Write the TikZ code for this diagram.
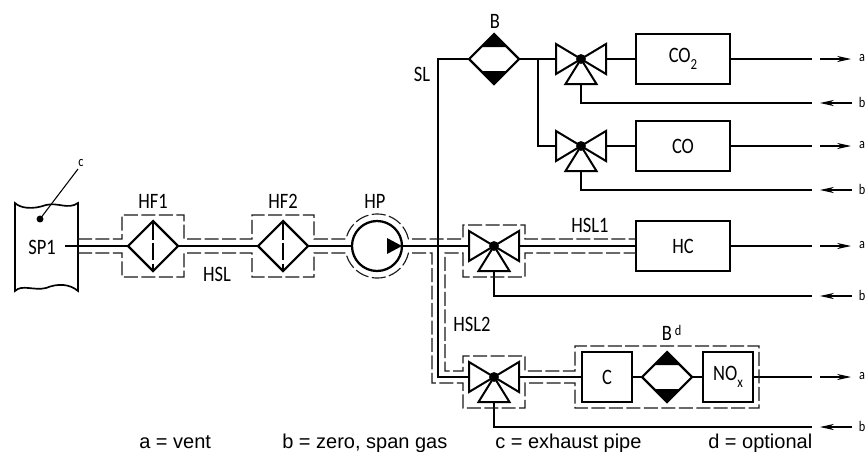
\documentclass[tikz,border=0pt]{standalone}
\usepackage{fontspec}
\setmainfont{Carlito}[FakeStretch=0.84]
\newfontfamily\legendfont{Liberation Sans}
\usetikzlibrary{shapes.geometric,arrows.meta,calc}
\tikzset{
 main/.style={line width=2.2pt},
 thin/.style={line width=1.5pt},
 dashline/.style={line width=0.85pt,dash pattern=on 10.5pt off 2.6pt,color=black!90},
 box/.style={draw,line width=1.7pt,inner sep=0pt,outer sep=0pt},
 filt/.style={draw,diamond,aspect=1,line width=1.6pt,inner sep=0pt,outer sep=0pt,minimum width=37.5pt,minimum height=37.5pt},
 lab/.style={inner sep=0pt,font=\fontsize{16.5}{17}\selectfont},
 small/.style={inner sep=0pt,font=\fontsize{11}{12}\selectfont},
 legend/.style={inner sep=0pt,anchor=base west,font=\legendfont\fontsize{15}{16}\selectfont},
 outarrow/.style={line width=0.8pt,-{Stealth[length=10.5pt,width=4.6pt]}},
}
\newcommand{\lowtxt}[1]{\raisebox{-0.3em}{\fontsize{11.5}{11.5}\selectfont #1}}
\newcommand{\valve}[3]{%
 \coordinate (#1) at (#2,#3);
 \coordinate (#1-l) at (#2-25,#3);
 \coordinate (#1-r) at (#2+25,#3);
 \coordinate (#1-b) at (#2,#3+25);
 \draw[line width=1.5pt,line join=miter] (#1) -- (#2-25,#3-15) -- (#2-25,#3+15) -- cycle;
 \draw[line width=1.5pt,line join=miter] (#1) -- (#2+25,#3-15) -- (#2+25,#3+15) -- cycle;
 \draw[line width=1.5pt,line join=miter] (#1) -- (#2+15.5,#3+25) -- (#2-15.5,#3+25) -- cycle;
 \fill (#1) circle[radius=3.7pt];
}
\newcommand{\capped}[1]{%
 \fill (#1.north) -- ([shift={(-13,-12)}]#1.center) -- ([shift={(13,-12)}]#1.center) -- cycle;
 \fill (#1.south) -- ([shift={(-13,12)}]#1.center) -- ([shift={(13,12)}]#1.center) -- cycle;
}
\newcommand{\hfilter}[1]{%
 \draw[line width=1.8pt,dash pattern=on 14pt off 2.5pt on 13pt off 2.5pt on 8pt] (#1.north) -- (#1.south);
}
\begin{document}
\begin{tikzpicture}[x=0.75pt,y=-0.75pt]
\useasboundingbox (0,0) rectangle (867,451);
% exhaust pipe
\draw[line width=1.25pt] (15,203) .. controls (20,208) and (32,210) .. (46,205) .. controls (58,202) and (68,210) .. (78,203)
  -- (78,291) .. controls (70,284) and (58,283) .. (46,288) .. controls (34,291) and (22,284) .. (15,291) -- cycle;
\node[lab] (sp1) at (42,247) {SP1};
\coordinate (spin) at (65,246);
\coordinate (spdot) at (40,219);
\coordinate (spc) at (78,169);
\fill (spdot) circle[radius=2.6pt];
\draw[line width=0.8pt] (spdot) -- (spc);
\node[small] (labc) at (81,163) {c};
% filters and pump
\node[filt] (hf1) at (153,246) {};
\node[filt] (hf2) at (283,246) {};
\hfilter{hf1}\hfilter{hf2}
\node[draw,circle,line width=1.7pt,inner sep=0pt,outer sep=0pt,minimum size=37.5pt] (hp) at (377,246) {};
\coordinate (hptip) at (402,246);
\fill (387,238) -- (hptip) -- (387,254) -- cycle;
\node[lab] (lhf1) at (153,201) {HF1};
\node[lab] (lhf2) at (283,201) {HF2};
\node[lab] (lhsl) at (217,274) {HSL};
\node[lab] (lhp) at (375,201) {HP};
% valves
\valve{v1}{581}{59}
\valve{v2}{581}{146}
\valve{v3}{494}{246}
\valve{v4}{494}{377}
% analysers
\node[box,minimum width=70.5pt,minimum height=37.5pt,lab] (co2) at (683,59) {CO\lowtxt{2}};
\node[box,minimum width=70.5pt,minimum height=37.5pt,lab] (co) at (683,146) {CO};
\node[box,minimum width=70.5pt,minimum height=37.5pt,lab] (hc) at (683,246) {HC};
\node[box,minimum width=38pt,minimum height=37.5pt,lab] (c) at (607,377) {C};
\node[box,minimum width=38pt,minimum height=37.5pt,lab] (nox) at (728,377) {NO\lowtxt{x}};
% dryers
\node[filt] (b1) at (494,59) {};
\node[filt] (b2) at (667,377) {};
\capped{b1}\capped{b2}
\node[lab] (lb) at (495,21) {B};
\node[lab] (lbd) at (667,333) {B};
\node[small] (ld) at (678,330) {d};
\node[lab] (lsl) at (422,74) {SL};
\node[lab] (lhsl1) at (590,225) {HSL1};
\node[lab] (lhsl2) at (472,324) {HSL2};
% junction points
\coordinate (j1) at (438,246);
\coordinate (j2) at (438,377);
\coordinate (j3) at (438,59);
\coordinate (j4) at (538,59);
\coordinate (j5) at (538,146);
% heated lines
\draw[main] (spin) -- (hf1.west);
\draw[main] (hf1.east) -- (hf2.west);
\draw[main] (hf2.east) -- (hp.west);
\draw[main] (hp.east) -- (v3-l);
\draw[main] (j1) -- (j2) -- (v4-l);
\draw[main] (v3-r) -- (hc.west);
\draw[main] (v4-r) -- (c.west);
% sample lines
\draw[thin] (j1) -- (j3) -- (b1.west);
\draw[thin] (b1.east) -- (v1-l);
\draw[thin] (j4) -- (j5) -- (v2-l);
\draw[thin] (v1-r) -- (co2.west);
\draw[thin] (v2-r) -- (co.west);
\draw[thin] (c.east) -- (b2.west);
\draw[thin] (b2.east) -- (nox.west);
% outlets
\foreach \n/\y/\src in {a1/59/co2,a2/146/co,a3/246/hc,a4/377/nox}{
 \coordinate (\n-e) at (812,\y);
 \coordinate (\n-s) at (820,\y);
 \coordinate (\n-t) at (851,\y);
 \draw[main] (\src.east) -- (\n-e);
 \draw[outarrow] (\n-s) -- (\n-t);
 \node[small] (\n-l) at (862,\y-1) {a};
}
\foreach \n/\y/\src in {b1x/103/v1,b2x/190/v2,b3x/296/v3,b4x/427/v4}{
 \coordinate (\n-e) at (812,\y);
 \coordinate (\n-s) at (852,\y);
 \coordinate (\n-t) at (820,\y);
 \draw[main] (\src-b) |- (\n-e);
 \draw[outarrow] (\n-s) -- (\n-t);
 \node[small] (\n-l) at (862,\y-1) {b};
}
% heated enclosure dashes
\draw[dashline] (78,239) -- (122,239) -- (122,215) -- (184,215) -- (184,239) -- (252,239) -- (252,215) -- (314,215) -- (314,239) -- (346,239)
  arc[start angle=167.4,end angle=12.6,radius=24pt] -- (463,239) -- (463,225) -- (525,225) -- (525,239) -- (636,239);
\draw[dashline] (78,253) -- (122,253) -- (122,277) -- (184,277) -- (184,253) -- (252,253) -- (252,277) -- (314,277) -- (314,253) -- (346,253)
  arc[start angle=192.6,end angle=347.4,radius=24pt] -- (432,253) -- (432,383) -- (463,383) -- (463,408) -- (525,408) -- (525,383) -- (575,383) -- (575,408) -- (759,408) -- (759,346) -- (575,346) -- (575,371) -- (525,371) -- (525,356) -- (463,356) -- (463,371) -- (445,371) -- (445,253) -- (463,253) -- (463,277) -- (525,277) -- (525,253) -- (636,253);
% legend
\node[legend] (la) at (139,448) {a = vent};
\node[legend] (lb2) at (282,448) {b = zero, span gas};
\node[legend] (lc) at (495,448) {c = exhaust pipe};
\node[legend] (ldd) at (708,448) {d = optional};
\end{tikzpicture}
\end{document}
